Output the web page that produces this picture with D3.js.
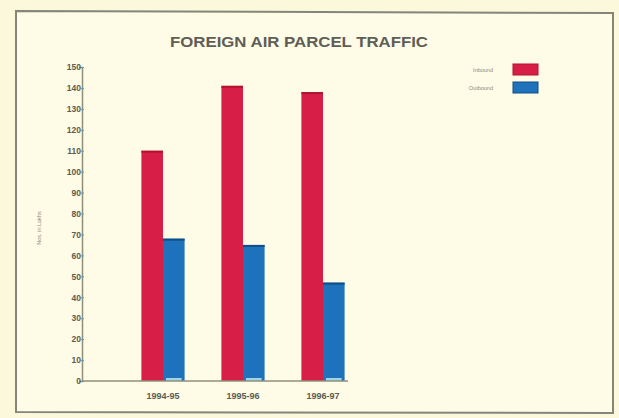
<!DOCTYPE html>
<html>
<head>
<meta charset="utf-8">
<script src="https://cdn.jsdelivr.net/npm/d3@7"></script>
<style>
  html, body { margin: 0; padding: 0; background: #fbf8dc; }
  svg { display: block; }
</style>
</head>
<body>
<svg id="chart" width="619" height="418"></svg>
<script>
// Foreign air parcel traffic, numbers in lakhs
const years = ["1994-95", "1995-96", "1996-97"];
const seriesNames = ["Inbound", "Outbound"];
const inbound = [110, 141, 138];
const outbound = [68, 65, 47];
const yTicks = [0, 10, 20, 30, 40, 50, 60, 70, 80, 90, 100, 110, 120, 130, 140, 150];

const colors = { Inbound: "#d71e47", Outbound: "#1d72bb" };
const edge = { Inbound: "#b3122f", Outbound: "#0f4f86" };

const svg = d3.select("#chart");

// paper and frame
svg.append("rect").attr("width", 619).attr("height", 418).attr("fill", "#fbf8dc");
svg.append("path")
  .attr("d", "M16,412 L16,11 L613,13 L613,413 Z")
  .attr("fill", "#fefbe6")
  .attr("stroke", "#85857a")
  .attr("stroke-width", 2);

svg.append("text")
  .attr("x", 299).attr("y", 47)
  .attr("text-anchor", "middle")
  .attr("font-family", "Liberation Sans Narrow, Liberation Sans, Arial, sans-serif")
  .attr("font-weight", "bold")
  .attr("font-size", 14)
  .attr("fill", "#5e5e56")
  .attr("textLength", 258)
  .attr("lengthAdjust", "spacingAndGlyphs")
  .text("FOREIGN AIR PARCEL TRAFFIC");

const y = d3.scaleLinear().domain([0, 150]).range([381, 67]);
const x0 = d3.scaleBand().domain(years).range([123, 363]).paddingInner(0.46).paddingOuter(0.23);
const x1 = d3.scaleBand().domain(seriesNames).range([0, x0.bandwidth()]);

const rows = years.map((yr, i) => ({ year: yr, Inbound: inbound[i], Outbound: outbound[i] }));

// bars
const groups = svg.append("g").selectAll("g").data(rows).join("g")
  .attr("transform", d => `translate(${x0(d.year)},0)`);

groups.selectAll("rect.bar")
  .data(d => seriesNames.map(s => ({ s, v: d[s] })))
  .join("rect")
  .attr("class", "bar")
  .attr("x", d => x1(d.s))
  .attr("y", d => y(d.v))
  .attr("width", x1.bandwidth())
  .attr("height", d => y(0) - y(d.v))
  .attr("fill", d => colors[d.s]);

// darker top edge
groups.selectAll("rect.top")
  .data(d => seriesNames.map(s => ({ s, v: d[s] })))
  .join("rect")
  .attr("class", "top")
  .attr("x", d => x1(d.s))
  .attr("y", d => y(d.v))
  .attr("width", x1.bandwidth())
  .attr("height", 2)
  .attr("fill", d => edge[d.s]);

// pale strip at the foot of the outbound bars
groups.append("rect")
  .attr("x", x1("Outbound") + 3)
  .attr("y", y(0) - 3)
  .attr("width", x1.bandwidth() - 6)
  .attr("height", 3)
  .attr("fill", "#9fd6ea");

// y axis
const yAxis = d3.axisLeft(y).tickValues(yTicks).tickSize(3).tickPadding(1);
const gy = svg.append("g").attr("transform", "translate(82,0)").call(yAxis);
gy.select(".domain").attr("stroke", "#8f8f78").attr("stroke-width", 1.5);
gy.selectAll(".tick line").attr("stroke", "#8f8f78").attr("x2", 2).attr("x1", -1);
gy.selectAll(".tick text")
  .attr("font-family", "Liberation Sans Narrow, Liberation Sans, sans-serif")
  .attr("font-weight", "bold")
  .attr("font-size", 8.5)
  .attr("fill", "#5c5c50")
  .attr("x", -1);

// x axis
const gx = svg.append("g").attr("transform", `translate(0,${y(0)})`);
gx.append("line").attr("x1", 82).attr("x2", 348).attr("stroke", "#8f8f78").attr("stroke-width", 1.5);
gx.selectAll("text").data(years).join("text")
  .attr("x", d => x0(d) + x0.bandwidth() / 2)
  .attr("y", 18)
  .attr("text-anchor", "middle")
  .attr("font-family", "Liberation Sans Narrow, Liberation Sans, sans-serif")
  .attr("font-weight", "bold")
  .attr("font-size", 9)
  .attr("fill", "#5c5c50")
  .text(d => d);

// y axis title
svg.append("text")
  .attr("transform", "translate(41,228) rotate(-90)")
  .attr("text-anchor", "middle")
  .attr("font-family", "Liberation Sans, sans-serif")
  .attr("font-size", 5.5)
  .attr("fill", "#8a8a80")
  .text("Nos. in Lakhs");

// legend
const legend = svg.append("g");
seriesNames.forEach((s, i) => {
  const ly = 64 + i * 18;
  legend.append("rect")
    .attr("x", 513).attr("y", ly).attr("width", 25).attr("height", 11)
    .attr("fill", colors[s]).attr("stroke", edge[s]).attr("stroke-width", 1);
  legend.append("text")
    .attr("x", 493).attr("y", ly + 8)
    .attr("text-anchor", "end")
    .attr("font-family", "Liberation Sans, sans-serif")
    .attr("font-size", 5.5)
    .attr("fill", "#8a8a80")
    .text(s);
});
</script>
</body>
</html>
